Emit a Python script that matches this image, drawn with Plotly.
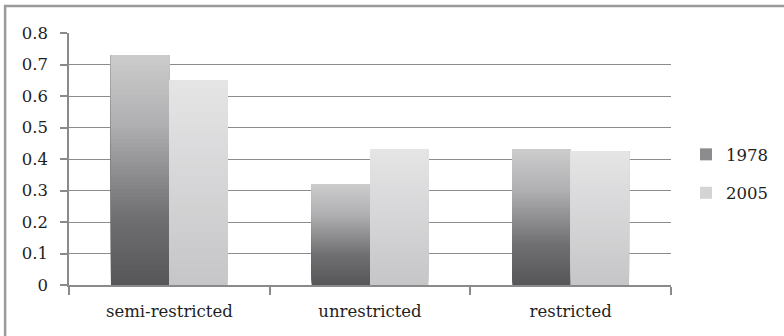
import plotly.graph_objects as go

# Share of land by access regime, two survey years
categories = ["semi-restricted", "unrestricted", "restricted"]
years = ["1978", "2005"]
values_1978 = [0.73, 0.32, 0.43]
values_2005 = [0.65, 0.43, 0.425]
y_ticks = [0, 0.1, 0.2, 0.3, 0.4, 0.5, 0.6, 0.7, 0.8]

# Vertical gradient stops (bottom -> top) for each series
gradients = {
    "1978": [(0.0, (86, 86, 89)), (0.3, (112, 112, 114)), (0.7, (176, 176, 178)), (1.0, (204, 204, 205))],
    "2005": [(0.0, (198, 198, 200)), (1.0, (229, 229, 230))],
}
legend_colors = {"1978": "#8c8c8e", "2005": "#d4d4d6"}
N_SLICES = 60


def gradient_color(stops, t):
    for (t0, c0), (t1, c1) in zip(stops[:-1], stops[1:]):
        if t <= t1:
            f = (t - t0) / (t1 - t0) if t1 > t0 else 0
            return "rgb({},{},{})".format(*[round(a + (b - a) * f) for a, b in zip(c0, c1)])
    return "rgb({},{},{})".format(*stops[-1][1])


fig = go.Figure()
for year, vals in zip(years, [values_1978, values_2005]):
    stops = gradients[year]
    # each layer runs from its own base up to the bar top, so layers
    # stack into a seamless bottom-to-top gradient
    for k in range(N_SLICES):
        t = (k + 0.5) / N_SLICES
        fig.add_trace(go.Bar(
            x=categories,
            y=[v * (1 - k / N_SLICES) for v in vals],
            base=[v * k / N_SLICES for v in vals],
            offsetgroup=year,
            legendgroup=year,
            name=year,
            showlegend=False,
            marker=dict(color=gradient_color(stops, t), line=dict(width=0)),
            hoverinfo="skip",
        ))
    # legend entry for the series
    fig.add_trace(go.Bar(
        x=categories, y=[None] * len(categories), offsetgroup=year,
        legendgroup=year, name=year, showlegend=True,
        marker=dict(color=legend_colors[year], line=dict(width=0)),
        hoverinfo="skip",
    ))

FAMILY = "DejaVu Serif"
SIZE = 16.5
TEXT = "#1e1e1e"

fig.update_layout(
    width=784, height=336,
    margin=dict(l=69, r=112, t=33, b=51),
    paper_bgcolor="white", plot_bgcolor="white",
    barmode="group", bargap=0.418, bargroupgap=0,
    font=dict(family=FAMILY, size=SIZE, color=TEXT),
    showlegend=True,
    legend=dict(
        x=1.0 + 14 / 603, xanchor="left", y=0.442, yanchor="middle",
        traceorder="grouped", tracegroupgap=14,
        font=dict(family=FAMILY, size=SIZE, color=TEXT),
        bgcolor="rgba(0,0,0,0)",
        itemwidth=30,
    ),
    xaxis=dict(
        type="category", categoryorder="array", categoryarray=categories,
        showline=True, linecolor="#8a8a8a", linewidth=1.5,
        ticks="outside", tickson="boundaries", ticklen=8, tickcolor="#8a8a8a", tickwidth=1.5,
        tickfont=dict(family=FAMILY, size=SIZE, color=TEXT),
        ticklabelstandoff=10, showgrid=False, zeroline=False,
    ),
    yaxis=dict(
        range=[0, 0.8], tickvals=y_ticks, ticktext=[f"{v:g}" for v in y_ticks],
        showline=True, linecolor="#8a8a8a", linewidth=1.5,
        ticks="outside", ticklen=7, tickcolor="#8a8a8a", tickwidth=1.5,
        tickfont=dict(family=FAMILY, size=SIZE, color=TEXT),
        ticklabelstandoff=9,
        showgrid=True, gridcolor="#8c8c8c", gridwidth=1.2, zeroline=False,
    ),
    shapes=[
        # chart frame
        dict(type="rect", xref="paper", yref="paper",
             x0=(5 - 69) / 603, x1=(800 - 69) / 603,
             y0=(51 - 360) / 252, y1=(336 - 6 - 51) / 252,
             line=dict(color="#9a9a9a", width=2.5), layer="below"),
    ],
)

fig.write_html("out.html")
